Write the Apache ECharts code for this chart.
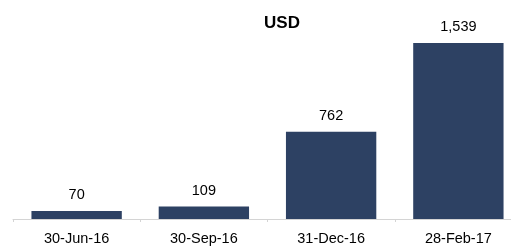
<!DOCTYPE html>
<html>
<head>
<meta charset="utf-8">
<script src="https://cdn.jsdelivr.net/npm/echarts@6/dist/echarts.min.js"></script>
<style>
  html, body { margin: 0; padding: 0; background: #fff; }
  #chart { width: 511px; height: 246px; }
</style>
</head>
<body>
<div id="chart"></div>
<script>
const categories = ["30-Jun-16", "30-Sep-16", "31-Dec-16", "28-Feb-17"];
const usdValues = [70, 109, 762, 1539];

const myChart = echarts.init(document.getElementById("chart"));
const option = {
  backgroundColor: "#fff",
  animation: false,
  title: {
    text: "USD",
    left: 277,
    top: 10,
    textAlign: "center",
    textStyle: {
      fontFamily: "Liberation Sans",
      fontSize: 17,
      fontWeight: "bold",
      color: "#000"
    }
  },
  grid: {
    left: 13,
    right: -11,
    top: 20,
    bottom: 27,
    outerBoundsMode: "none"
  },
  xAxis: {
    type: "category",
    data: categories,
    axisLine: { lineStyle: { color: "#d4d4d4", width: 1 } },
    axisTick: { show: true, length: 3, lineStyle: { color: "#d4d4d4" } },
    axisLabel: {
      margin: 12,
      fontFamily: "Liberation Sans",
      fontSize: 14.5,
      color: "#000"
    }
  },
  yAxis: {
    type: "value",
    min: 0,
    max: 1740,
    show: false,
    splitLine: { show: false }
  },
  series: [
    {
      type: "bar",
      data: usdValues,
      barWidth: "71%",
      itemStyle: { color: "#2d4163" },
      label: {
        show: true,
        position: "top",
        distance: 8,
        fontFamily: "Liberation Sans",
        fontSize: 14.5,
        color: "#000",
        formatter: (p) => p.value.toLocaleString("en-US")
      }
    }
  ]
};
myChart.setOption(option);
</script>
</body>
</html>
